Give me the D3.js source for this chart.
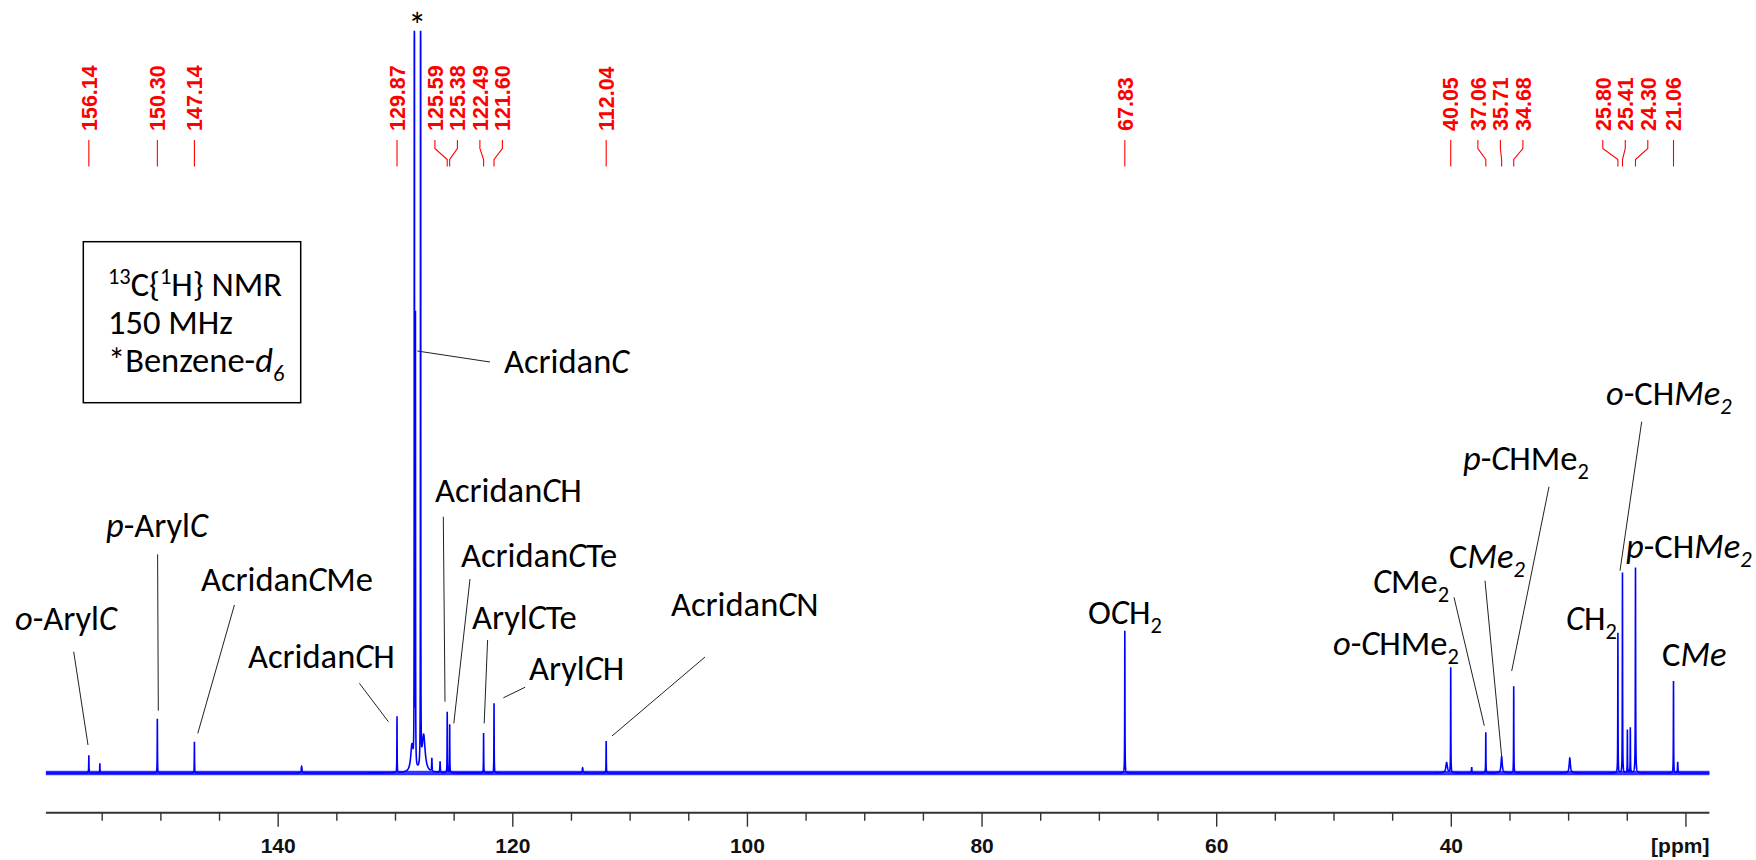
<!DOCTYPE html>
<html>
<head>
<meta charset="utf-8">
<script src="https://cdn.jsdelivr.net/npm/d3@7"></script>
<style>
  html, body { margin: 0; padding: 0; background: #ffffff; }
  svg { display: block; }
</style>
</head>
<body>
<svg id="chart" width="1756" height="860"></svg>
<script>
// ---- 13C{1H} spectrum data -------------------------------------------------

// Picked peak positions (ppm), printed in red along the top
const pickedShifts = [156.14, 150.30, 147.14, 129.87, 125.59, 125.38, 122.49, 121.60,
                      112.04, 67.83, 40.05, 37.06, 35.71, 34.68, 25.80, 25.41, 24.30, 21.06];

// Resonance lines: shift (ppm), intensity (% of full vertical scale), half width (ppm)
const lineShifts = [156.14, 155.20, 150.30, 147.14, 138.00, 129.87,
                    128.60, 128.39, 128.30, 127.86, 127.60, 126.90, 126.20,
                    125.59, 125.38, 122.49, 121.60, 114.05, 112.04,
                    67.83,
                    40.40, 40.05, 38.26, 37.06, 35.71, 34.68, 29.90,
                    25.80, 25.41, 24.99, 24.74, 24.30, 21.06, 20.70];
const lineIntensities = [2.4, 1.3, 7.3, 4.2, 0.9, 7.6,
                         3.5, 700, 60.2, 700, 5.0, 1.8, 1.5,
                         8.2, 6.5, 5.4, 9.4, 0.7, 4.3,
                         19.2,
                         1.4, 14.2, 0.8, 5.5, 2.2, 11.7, 2.0,
                         18.9, 27.0, 5.8, 6.1, 27.7, 12.4, 1.5];
const lineWidths = [0.012, 0.012, 0.012, 0.012, 0.04, 0.012,
                    0.12, 0.004, 0.01, 0.004, 0.15, 0.02, 0.02,
                    0.012, 0.012, 0.012, 0.012, 0.04, 0.012,
                    0.012,
                    0.08, 0.012, 0.02, 0.012, 0.06, 0.012, 0.06,
                    0.012, 0.012, 0.012, 0.012, 0.015, 0.012, 0.02];

// Baseline noise half-amplitude (% of full scale)
const noiseLevel = 0.3;

// Spectral window and axis
const ppmWindow = [159.8, 18.0];
const majorTicks = [140, 120, 100, 80, 60, 40, 20];
const minorTicks = [155, 150, 145, 135, 130, 125, 115, 110, 105, 95, 90, 85, 75, 70, 65,
                    55, 50, 45, 35, 30, 25];
const tickLabels = ["140", "120", "100", "80", "60", "40"];
const axisUnit = "[ppm]";

// Acquisition details in the inset box
const infoLines = [
  [{t: "13", s: "sup"}, {t: "C{"}, {t: "1", s: "sup"}, {t: "H} NMR"}],
  [{t: "150 MHz"}],
  [{t: "*Benzene-"}, {t: "d", i: true}, {t: "6", i: true, s: "sub"}]
];

// Assignments
const assignTexts = [
  [{t: "o", i: true}, {t: "-Aryl"}, {t: "C", i: true}],
  [{t: "p", i: true}, {t: "-Aryl"}, {t: "C", i: true}],
  [{t: "Acridan"}, {t: "C", i: true}, {t: "Me"}],
  [{t: "Acridan"}, {t: "C", i: true}, {t: "H"}],
  [{t: "Acridan"}, {t: "C", i: true}],
  [{t: "Acridan"}, {t: "C", i: true}, {t: "H"}],
  [{t: "Acridan"}, {t: "C", i: true}, {t: "Te"}],
  [{t: "Aryl"}, {t: "C", i: true}, {t: "Te"}],
  [{t: "Aryl"}, {t: "C", i: true}, {t: "H"}],
  [{t: "Acridan"}, {t: "C", i: true}, {t: "N"}],
  [{t: "O"}, {t: "C", i: true}, {t: "H"}, {t: "2", s: "sub"}],
  [{t: "o", i: true}, {t: "-"}, {t: "C", i: true}, {t: "HMe"}, {t: "2", s: "sub"}],
  [{t: "C", i: true}, {t: "Me"}, {t: "2", s: "sub"}],
  [{t: "C"}, {t: "Me", i: true}, {t: "2", i: true, s: "sub"}],
  [{t: "p", i: true}, {t: "-"}, {t: "C", i: true}, {t: "HMe"}, {t: "2", s: "sub"}],
  [{t: "o", i: true}, {t: "-CH"}, {t: "Me", i: true}, {t: "2", i: true, s: "sub"}],
  [{t: "C", i: true}, {t: "H"}, {t: "2", s: "sub"}],
  [{t: "p", i: true}, {t: "-CH"}, {t: "Me", i: true}, {t: "2", i: true, s: "sub"}],
  [{t: "C"}, {t: "Me", i: true}]
];

// ---- layout ------------------------------------------------------------------
const W = 1756, H = 860;
const plot = {left: 45.9, right: 1709.4, top: 31.6, baseline: 773, axisY: 812.7};
const textSize = 34.5;

// Text anchor (left, baseline) and optional leader [x1,y1,x2,y2] per assignment
const assignLayout = [
  {x: 15, y: 630, leader: [73.7, 651.7, 88, 745]},
  {x: 106, y: 537, leader: [157.6, 554.3, 158.3, 710.7]},
  {x: 201, y: 591, leader: [234.4, 605, 197.8, 733.3]},
  {x: 248, y: 668, leader: [359.4, 683.3, 388.4, 721.7]},
  {x: 504, y: 372.5, leader: [490, 362, 417.3, 351]},
  {x: 435, y: 501.5, leader: [443.3, 516.7, 445, 701.7]},
  {x: 461, y: 566.5, leader: [470, 579, 453.8, 723.4]},
  {x: 472, y: 629, leader: [487.6, 640, 484.2, 723.4]},
  {x: 529, y: 680, leader: [525.2, 687.2, 503.4, 697.8]},
  {x: 671, y: 616, leader: [705, 657, 612, 736]},
  {x: 1088, y: 624, leader: null},
  {x: 1333, y: 655, leader: null},
  {x: 1373, y: 593, leader: [1454, 597.3, 1484.3, 725.7]},
  {x: 1449, y: 568, leader: [1485, 580.7, 1501.7, 756.7]},
  {x: 1463, y: 470, leader: [1549, 486.7, 1511.7, 671]},
  {x: 1606, y: 405, leader: [1641.7, 421.7, 1620, 570.7]},
  {x: 1566, y: 630, leader: null},
  {x: 1626, y: 557.5, leader: null},
  {x: 1662, y: 666, leader: null}
];

const BLUE = "#0000ff", RED = "#ff0000";
const labelFont = "Carlito, Lato, 'Open Sans', sans-serif";
const axisFont = "'Liberation Sans', Arial, sans-serif";

const svg = d3.select("#chart");
svg.append("rect").attr("width", W).attr("height", H).attr("fill", "#ffffff");

// ---- scales ------------------------------------------------------------------
const x = d3.scaleLinear().domain(ppmWindow).range([plot.left, plot.right]);
const y = d3.scaleLinear().domain([0, 100]).range([plot.baseline, plot.top]);

// ---- spectrum (sum of Lorentzian lines) --------------------------------------
const step = 0.005;
const samples = d3.range(ppmWindow[1], ppmWindow[0] + step / 2, step).concat(lineShifts);
samples.sort((a, b) => b - a);
const spectrum = samples.map(p => {
  let s = 0;
  for (let k = 0; k < lineShifts.length; k++) {
    const u = (p - lineShifts[k]) / lineWidths[k];
    s += lineIntensities[k] / (1 + u * u);
  }
  return [p, Math.min(s, 100)];
});

// baseline noise band
svg.append("rect")
  .attr("x", x(ppmWindow[0]))
  .attr("y", y(noiseLevel))
  .attr("width", x(ppmWindow[1]) - x(ppmWindow[0]))
  .attr("height", y(-noiseLevel) - y(noiseLevel))
  .attr("fill", BLUE)
  .attr("fill-opacity", 0.8);

svg.append("path")
  .datum(spectrum)
  .attr("fill", "none")
  .attr("stroke", BLUE)
  .attr("stroke-width", 1.6)
  .attr("stroke-linejoin", "miter")
  .attr("d", d3.line().x(d => x(d[0])).y(d => y(d[1])));

// ---- x axis ------------------------------------------------------------------
const axisG = svg.append("g").attr("transform", `translate(0,${plot.axisY})`);
axisG.append("line")
  .attr("x1", x(ppmWindow[0])).attr("x2", x(ppmWindow[1]))
  .attr("y1", 0).attr("y2", 0)
  .attr("stroke", "#333").attr("stroke-width", 2);
axisG.selectAll("line.major").data(majorTicks).join("line")
  .attr("class", "major")
  .attr("x1", d => x(d)).attr("x2", d => x(d))
  .attr("y1", 0).attr("y2", 14)
  .attr("stroke", "#333").attr("stroke-width", 1.4);
axisG.selectAll("line.minor").data(minorTicks).join("line")
  .attr("class", "minor")
  .attr("x1", d => x(d)).attr("x2", d => x(d))
  .attr("y1", 0).attr("y2", 8)
  .attr("stroke", "#333").attr("stroke-width", 1.4);
axisG.selectAll("text.tl").data(tickLabels).join("text")
  .attr("class", "tl")
  .attr("x", d => x(+d)).attr("y", 40)
  .attr("text-anchor", "middle")
  .attr("font-family", axisFont).attr("font-weight", "bold").attr("font-size", 21)
  .attr("fill", "#111")
  .text(d => d);
axisG.append("text")
  .attr("x", plot.right).attr("y", 40)
  .attr("text-anchor", "end")
  .attr("font-family", axisFont).attr("font-weight", "bold").attr("font-size", 21)
  .attr("fill", "#111")
  .text(axisUnit);

// ---- picked-peak labels ------------------------------------------------------
const labelGap = 22.5;
function spreadLabels(xs, gap) {
  let groups = xs.map(v => ({xs: [v], c: v}));
  let merged = true;
  while (merged) {
    merged = false;
    for (let i = 0; i < groups.length - 1; i++) {
      const a = groups[i], b = groups[i + 1];
      const aRight = a.c + (a.xs.length - 1) * gap / 2;
      const bLeft = b.c - (b.xs.length - 1) * gap / 2;
      if (bLeft - aRight < gap) {
        const all = a.xs.concat(b.xs);
        groups.splice(i, 2, {xs: all, c: d3.mean(all)});
        merged = true;
        break;
      }
    }
  }
  const out = [];
  groups.forEach(g => g.xs.forEach((v, j) => out.push(g.c + (j - (g.xs.length - 1) / 2) * gap)));
  return out;
}
const peakXs = pickedShifts.map(p => x(p));
const labelXs = spreadLabels(peakXs, labelGap);

const pickG = svg.append("g");
pickedShifts.forEach((p, i) => {
  const lx = labelXs[i], px = peakXs[i];
  pickG.append("path")
    .attr("d", `M${lx},140 L${lx},148.5 L${px},159.5 L${px},166.5`)
    .attr("fill", "none").attr("stroke", RED).attr("stroke-width", 1.1);
  pickG.append("text")
    .attr("transform", `translate(${lx},131) rotate(-90)`)
    .attr("dy", "0.36em")
    .attr("font-family", axisFont).attr("font-weight", "bold").attr("font-size", 21.5)
    .attr("fill", RED)
    .text(p.toFixed(2));
});

// ---- rich text helper --------------------------------------------------------
function richText(textSel, parts, size) {
  let shift = 0;
  parts.forEach(part => {
    const target = part.s === "sub" ? size * 0.27 : part.s === "sup" ? -size * 0.36 : 0;
    textSel.append("tspan")
      .attr("dy", target - shift)
      .attr("font-size", part.s ? size * 0.65 : size)
      .attr("font-style", part.i ? "italic" : "normal")
      .text(part.t);
    shift = target;
  });
}

// ---- assignments -------------------------------------------------------------
const annG = svg.append("g");
assignTexts.forEach((parts, i) => {
  const L = assignLayout[i];
  if (L.leader) {
    annG.append("line")
      .attr("x1", L.leader[0]).attr("y1", L.leader[1])
      .attr("x2", L.leader[2]).attr("y2", L.leader[3])
      .attr("stroke", "#222").attr("stroke-width", 1);
  }
  const t = annG.append("text")
    .attr("x", L.x).attr("y", L.y)
    .attr("font-family", labelFont).attr("font-size", textSize).attr("fill", "#000");
  richText(t, parts, textSize);
});

// solvent marker
svg.append("text")
  .attr("x", x(128.14)).attr("y", 38)
  .attr("text-anchor", "middle")
  .attr("font-family", labelFont).attr("font-size", 36).attr("fill", "#000")
  .text("*");

// ---- info box ----------------------------------------------------------------
const box = svg.append("g");
box.append("rect")
  .attr("x", 83.3).attr("y", 241.7).attr("width", 217.4).attr("height", 161)
  .attr("fill", "#fff").attr("stroke", "#000").attr("stroke-width", 1.5);
infoLines.forEach((parts, i) => {
  const t = box.append("text")
    .attr("x", 108).attr("y", 296 + i * 38)
    .attr("font-family", labelFont).attr("font-size", textSize).attr("fill", "#000");
  richText(t, parts, textSize);
});
</script>
</body>
</html>
